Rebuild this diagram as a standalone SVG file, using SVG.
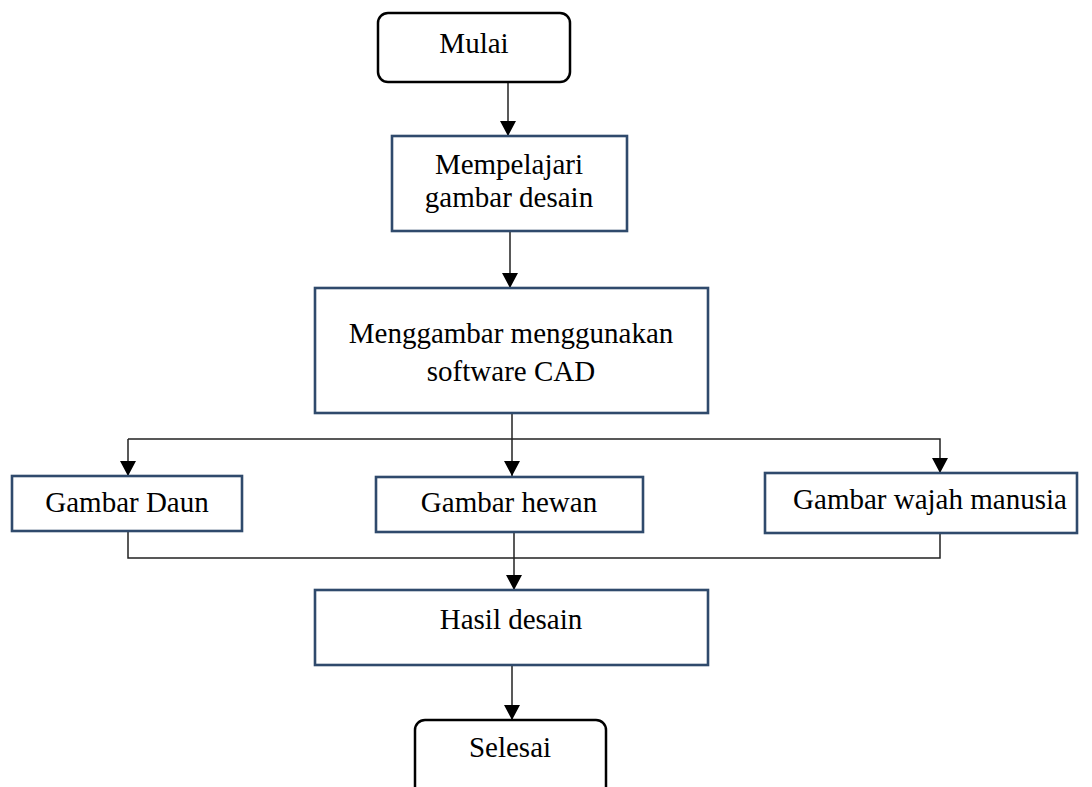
<svg xmlns="http://www.w3.org/2000/svg" width="1092" height="787" viewBox="0 0 1092 787">
<defs>
<style>
.term{fill:#fff;stroke:#000;stroke-width:2.5}
.proc{fill:#fff;stroke:#2F4A6C;stroke-width:2.6}
.lbl{font-family:"Liberation Serif","Times New Roman",serif;font-size:29px;fill:#000;text-anchor:middle}
.conn{fill:none;stroke:#222;stroke-width:1.5}
</style>
<marker id="arr" viewBox="0 0 15 16" refX="15" refY="8" markerWidth="15" markerHeight="16" markerUnits="userSpaceOnUse" orient="auto">
<path d="M0,0 L15,8 L0,16 Z" fill="#000"/>
</marker>
</defs>
<rect width="1092" height="787" fill="#fff"/>
<g id="connectors">
<line class="conn" x1="508" y1="82" x2="508" y2="136" marker-end="url(#arr)"/>
<line class="conn" x1="510" y1="231" x2="510" y2="288" marker-end="url(#arr)"/>
<line class="conn" x1="512" y1="413" x2="512" y2="476" marker-end="url(#arr)"/>
<polyline class="conn" points="128,439 940,439 940,473" marker-end="url(#arr)"/>
<line class="conn" x1="128" y1="439" x2="128" y2="476" marker-end="url(#arr)"/>
<polyline class="conn" points="128,531 128,558 940,558 940,533"/>
<line class="conn" x1="514" y1="532" x2="514" y2="590" marker-end="url(#arr)"/>
<line class="conn" x1="512" y1="665" x2="512" y2="720" marker-end="url(#arr)"/>
</g>
<g id="mulai">
<rect class="term" x="378" y="13" width="192" height="69" rx="10"/>
<text class="lbl" x="474" y="53">Mulai</text>
</g>
<g id="mempelajari">
<rect class="proc" x="392" y="136" width="235" height="95"/>
<text class="lbl" x="509" y="174">Mempelajari</text>
<text class="lbl" x="509" y="207">gambar desain</text>
</g>
<g id="menggambar">
<rect class="proc" x="315" y="288" width="393" height="125"/>
<text class="lbl" x="511" y="343">Menggambar menggunakan</text>
<text class="lbl" x="511" y="381">software CAD</text>
</g>
<g id="daun">
<rect class="proc" x="12" y="476" width="230" height="55"/>
<text class="lbl" x="127" y="512">Gambar Daun</text>
</g>
<g id="hewan">
<rect class="proc" x="376" y="477" width="267" height="55"/>
<text class="lbl" x="509" y="512">Gambar hewan</text>
</g>
<g id="wajah">
<rect class="proc" x="765" y="473" width="312" height="60"/>
<text class="lbl" x="930" y="509">Gambar wajah manusia</text>
</g>
<g id="hasil">
<rect class="proc" x="315" y="590" width="393" height="75"/>
<text class="lbl" x="511" y="629">Hasil desain</text>
</g>
<g id="selesai">
<rect class="term" x="415" y="720" width="191" height="80" rx="10"/>
<text class="lbl" x="510" y="757">Selesai</text>
</g>
</svg>
